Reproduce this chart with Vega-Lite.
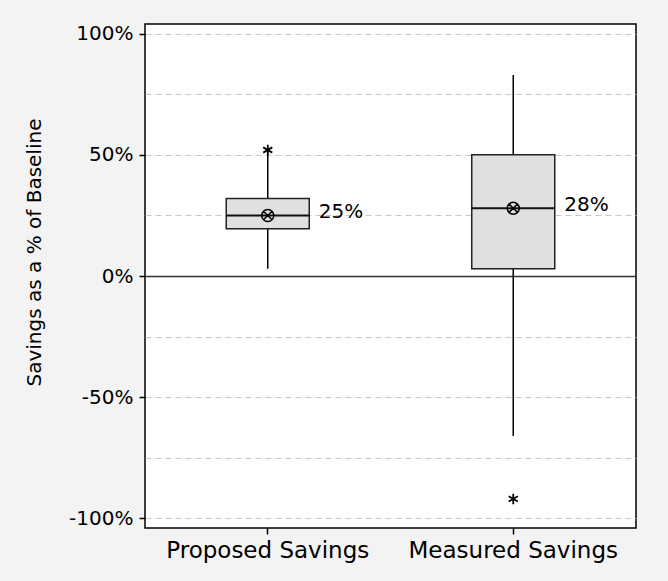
{
  "$schema": "https://vega.github.io/schema/vega-lite/v6.json",
  "width": 491,
  "height": 504,
  "autosize": {"type": "none"},
  "padding": {"left": 145, "top": 24, "right": 32, "bottom": 53},
  "background": "#f3f3f3",
  "config": {
    "font": "DejaVu Sans",
    "view": {"fill": "white", "stroke": "black", "strokeWidth": 1.5}
  },
  "datasets": {
    "boxes": [
      {"group": "Proposed Savings", "lower": 3, "q1": 19.5, "median": 25, "q3": 32, "upper": 51, "mean": 25, "label": "25%"},
      {"group": "Measured Savings", "lower": -66, "q1": 3, "median": 28, "q3": 50, "upper": 83, "mean": 28, "label": "28%"}
    ],
    "outliers": [
      {"group": "Proposed Savings", "value": 52},
      {"group": "Measured Savings", "value": -92}
    ]
  },
  "encoding": {
    "x": {
      "field": "group",
      "type": "nominal",
      "sort": ["Proposed Savings", "Measured Savings"],
      "scale": {"paddingInner": 0, "paddingOuter": 0},
      "axis": {
        "title": null,
        "labelAngle": 0,
        "labelFontSize": 23,
        "labelLimit": 0,
        "labelColor": "black",
        "labelPadding": 5,
        "tickSize": 6,
        "tickColor": "black",
        "tickWidth": 1.5,
        "domain": false
      }
    }
  },
  "layer": [
    {
      "data": {"name": "boxes"},
      "mark": {"type": "rule", "color": "black", "strokeWidth": 1.5},
      "encoding": {
        "y": {
          "field": "lower",
          "type": "quantitative",
          "scale": {"domain": [-104, 104], "nice": false, "zero": false},
          "axis": {
            "title": "Savings as a % of Baseline",
            "titleFontSize": 20,
            "titleFontWeight": "normal",
            "titleColor": "black",
            "titlePadding": 24,
            "titleY": 228,
            "values": [-100, -75, -50, -25, 0, 25, 50, 75, 100],
            "labelExpr": "datum.value % 50 === 0 ? datum.value + '%' : ''",
            "labelFontSize": 20,
            "labelColor": "black",
            "labelPadding": 6,
            "tickSize": 6,
            "tickColor": "black",
            "tickWidth": 1.5,
            "tickOpacity": {"condition": {"test": "datum.value % 50 === 0", "value": 1}, "value": 0},
            "domain": false,
            "grid": true,
            "gridColor": {"condition": {"test": "datum.value === 0", "value": "#333333"}, "value": "#c8c8c8"},
            "gridDash": {"condition": {"test": "datum.value === 0", "value": []}, "value": [6, 4]},
            "gridWidth": {"condition": {"test": "datum.value === 0", "value": 1.5}, "value": 1}
          }
        },
        "y2": {"field": "upper"}
      }
    },
    {
      "data": {"name": "boxes"},
      "mark": {"type": "bar", "width": 83, "fill": "#e0e0e0", "stroke": "#222222", "strokeWidth": 1.5},
      "encoding": {
        "y": {"field": "q1", "type": "quantitative"},
        "y2": {"field": "q3"}
      }
    },
    {
      "data": {"name": "boxes"},
      "mark": {"type": "tick", "size": 83, "thickness": 2, "color": "#111111", "opacity": 1},
      "encoding": {
        "y": {"field": "median", "type": "quantitative"}
      }
    },
    {
      "data": {"name": "boxes"},
      "mark": {
        "type": "point",
        "shape": "M-1,0A1,1,0,1,1,1,0A1,1,0,1,1,-1,0ZM-0.7071,-0.7071L0.7071,0.7071M-0.7071,0.7071L0.7071,-0.7071",
        "filled": false,
        "stroke": "black",
        "strokeWidth": 1.5,
        "size": 144,
        "opacity": 1
      },
      "encoding": {
        "y": {"field": "mean", "type": "quantitative"}
      }
    },
    {
      "data": {"name": "boxes"},
      "mark": {"type": "text", "align": "left", "baseline": "middle", "dx": 51, "dy": -3, "fontSize": 20, "color": "black"},
      "encoding": {
        "y": {"field": "mean", "type": "quantitative"},
        "text": {"field": "label", "type": "nominal"}
      }
    },
    {
      "data": {"name": "outliers"},
      "mark": {
        "type": "point",
        "shape": "M0,-1L0,1M-0.87,-0.5L0.87,0.5M-0.87,0.5L0.87,-0.5",
        "filled": false,
        "stroke": "black",
        "strokeWidth": 1.8,
        "size": 110,
        "opacity": 1
      },
      "encoding": {
        "y": {"field": "value", "type": "quantitative"}
      }
    }
  ]
}
